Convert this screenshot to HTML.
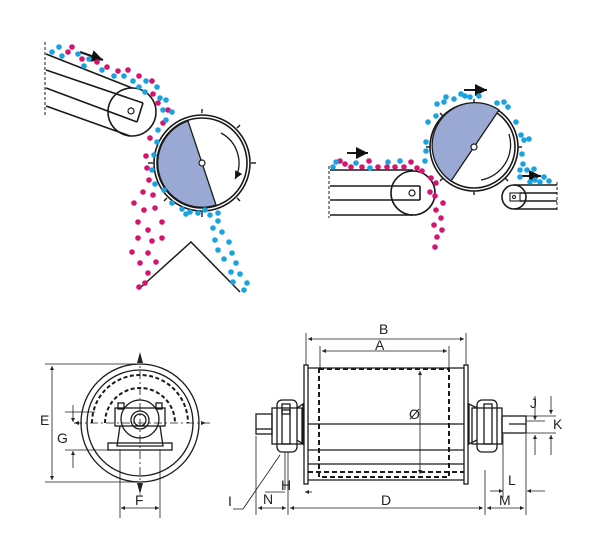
<!DOCTYPE html>
<html><head><meta charset="utf-8"><style>
html,body{margin:0;padding:0;background:#fff;}
svg{display:block;}
text{font-family:"Liberation Sans",sans-serif;font-size:14px;fill:#222;}
</style></head><body>
<svg width="600" height="554" viewBox="0 0 600 554" xmlns="http://www.w3.org/2000/svg">
<defs>
<marker id="a" viewBox="0 0 10 10" refX="10" refY="5" markerWidth="7" markerHeight="5" orient="auto-start-reverse"><path d="M0,0L10,5L0,10z" fill="#222"/></marker>
<marker id="b" viewBox="0 0 10 10" refX="10" refY="5" markerWidth="9" markerHeight="6" orient="auto"><path d="M0,0L10,5L0,10z" fill="#111"/></marker>
</defs>
<g stroke="#1a1a1a" stroke-width="1.6" fill="none">
<line x1="45" y1="42" x2="45" y2="116" stroke-dasharray="3 2" stroke-width="1"/>
<line x1="46" y1="54" x2="132" y2="88"/>
<line x1="46" y1="106" x2="130" y2="136"/>
<line x1="46" y1="70" x2="143" y2="103"/>
<line x1="46" y1="88" x2="137" y2="122"/>
<line x1="143" y1="103" x2="137" y2="122"/>
<circle cx="132" cy="112" r="24" fill="none"/>
<circle cx="131" cy="111" r="3" stroke-width="1.2"/>
<circle cx="202" cy="163" r="48" fill="#fff"/>
<circle cx="202" cy="163" r="45"/>
<path d="M188,121 A44,44 0 0 0 216,205 Z" fill="#9aa9d4" stroke-width="1.3"/>
<circle cx="202" cy="163" r="3" fill="#fff" stroke-width="1.2"/>
<path d="M221,133 A34,34 0 0 1 235,179" stroke-width="1.3" marker-end="url(#b)"/>
<g stroke-width="1.4">
<line x1="202" y1="113" x2="202" y2="109"/><line x1="237" y1="128" x2="240" y2="125"/>
<line x1="251" y1="163" x2="256" y2="163"/><line x1="237" y1="198" x2="240" y2="201"/>
<line x1="202" y1="212" x2="202" y2="217"/><line x1="167" y1="198" x2="164" y2="201"/>
<line x1="153" y1="163" x2="148" y2="163"/>
</g>
<path d="M140,288 L191,242 L240,292" stroke-width="1.5"/>
<line x1="80" y1="52" x2="103" y2="60" stroke-width="2" marker-end="url(#b)"/>
<line x1="329" y1="166" x2="329" y2="218" stroke-dasharray="3 2" stroke-width="1"/>
<line x1="330" y1="170" x2="413" y2="170"/>
<line x1="330" y1="215" x2="413" y2="215"/>
<line x1="330" y1="186" x2="420" y2="186"/>
<line x1="330" y1="200" x2="420" y2="200"/>
<line x1="420" y1="186" x2="420" y2="200"/>
<circle cx="413" cy="193" r="22"/>
<circle cx="412" cy="193" r="3" stroke-width="1.2"/>
<circle cx="474" cy="147" r="44" fill="#fff"/>
<circle cx="474" cy="147" r="41"/>
<path d="M499,110 A41,41 0 1 0 451,181 Z" fill="#9aa9d4" stroke-width="1.3"/>
<circle cx="474" cy="147" r="3" fill="#fff" stroke-width="1.2"/>
<path d="M509,134 A36,36 0 0 1 481,180" stroke-width="1.3"/>
<g stroke-width="1.4">
<line x1="474" y1="103" x2="474" y2="99"/><line x1="474" y1="191" x2="474" y2="195"/>
<line x1="518" y1="147" x2="522" y2="147"/><line x1="430" y1="147" x2="426" y2="147"/>
<line x1="443" y1="116" x2="440" y2="113"/><line x1="505" y1="178" x2="508" y2="181"/>
<line x1="443" y1="178" x2="440" y2="181"/>
</g>
<circle cx="514" cy="197" r="12"/>
<rect x="510" y="193" width="10" height="8" stroke-width="1.1"/>
<circle cx="514" cy="197" r="1.5" stroke-width="1"/>
<line x1="514" y1="185" x2="557" y2="185"/><line x1="514" y1="209" x2="557" y2="209"/>
<line x1="520" y1="193" x2="557" y2="193"/><line x1="520" y1="201" x2="557" y2="201"/>
<line x1="557" y1="182" x2="557" y2="212" stroke-dasharray="3 2" stroke-width="1"/>
<line x1="347" y1="153" x2="368" y2="153" stroke-width="2" marker-end="url(#b)"/>
<line x1="464" y1="90" x2="487" y2="90" stroke-width="2" marker-end="url(#b)"/>
<line x1="522" y1="176" x2="541" y2="176" stroke-width="2" marker-end="url(#b)"/>
</g>
<g fill="#d4146f">
<circle cx="68" cy="52" r="2.8"/><circle cx="72" cy="47" r="2.8"/><circle cx="82" cy="59" r="2.8"/><circle cx="97" cy="62" r="2.8"/><circle cx="107" cy="67" r="2.8"/><circle cx="118" cy="71" r="2.8"/><circle cx="128" cy="70" r="2.8"/><circle cx="139" cy="76" r="2.8"/><circle cx="152" cy="81" r="2.8"/><circle cx="153" cy="94" r="2.8"/><circle cx="158" cy="103" r="2.8"/><circle cx="168" cy="110" r="2.8"/><circle cx="163" cy="123" r="2.8"/><circle cx="150" cy="138" r="2.8"/><circle cx="146" cy="156" r="2.8"/><circle cx="147" cy="168" r="2.8"/><circle cx="149" cy="180" r="2.8"/><circle cx="143" cy="192" r="2.8"/><circle cx="153" cy="195" r="2.8"/><circle cx="134" cy="203" r="2.8"/><circle cx="144" cy="210" r="2.8"/><circle cx="155" cy="208" r="2.8"/><circle cx="138" cy="222" r="2.8"/><circle cx="148" cy="230" r="2.8"/><circle cx="162" cy="222" r="2.8"/><circle cx="138" cy="238" r="2.8"/><circle cx="152" cy="241" r="2.8"/><circle cx="162" cy="238" r="2.8"/><circle cx="132" cy="252" r="2.8"/><circle cx="148" cy="253" r="2.8"/><circle cx="140" cy="263" r="2.8"/><circle cx="156" cy="262" r="2.8"/><circle cx="148" cy="273" r="2.8"/><circle cx="145" cy="283" r="2.8"/><circle cx="139" cy="287" r="2.8"/>
<circle cx="340" cy="161" r="2.8"/><circle cx="345" cy="164" r="2.8"/><circle cx="351" cy="167" r="2.8"/><circle cx="362" cy="167" r="2.8"/><circle cx="369" cy="161" r="2.8"/><circle cx="378" cy="167" r="2.8"/><circle cx="387" cy="167" r="2.8"/><circle cx="395" cy="167" r="2.8"/><circle cx="404" cy="167" r="2.8"/><circle cx="411" cy="162" r="2.8"/><circle cx="417" cy="168" r="2.8"/><circle cx="422" cy="171" r="2.8"/><circle cx="431" cy="178" r="2.8"/><circle cx="436" cy="183" r="2.8"/><circle cx="435" cy="196" r="2.8"/><circle cx="436" cy="210" r="2.8"/><circle cx="441" cy="218" r="2.8"/><circle cx="434" cy="225" r="2.8"/><circle cx="442" cy="230" r="2.8"/><circle cx="437" cy="237" r="2.8"/><circle cx="435" cy="247" r="2.8"/><circle cx="443" cy="203" r="2.8"/><circle cx="430" cy="192" r="2.8"/>
</g>
<g fill="#1aa3e0">
<circle cx="52" cy="52" r="2.8"/><circle cx="59" cy="47" r="2.8"/><circle cx="62" cy="56" r="2.8"/><circle cx="78" cy="54" r="2.8"/><circle cx="89" cy="59" r="2.8"/><circle cx="84" cy="66" r="2.8"/><circle cx="102" cy="70" r="2.8"/><circle cx="114" cy="76" r="2.8"/><circle cx="124" cy="76" r="2.8"/><circle cx="133" cy="81" r="2.8"/><circle cx="139" cy="87" r="2.8"/><circle cx="146" cy="81" r="2.8"/><circle cx="145" cy="92" r="2.8"/><circle cx="157" cy="87" r="2.8"/><circle cx="160" cy="98" r="2.8"/><circle cx="166" cy="100" r="2.8"/><circle cx="163" cy="110" r="2.8"/><circle cx="166" cy="120" r="2.8"/><circle cx="158" cy="130" r="2.8"/><circle cx="157" cy="142" r="2.8"/><circle cx="154" cy="155" r="2.8"/><circle cx="152" cy="170" r="2.8"/><circle cx="155" cy="184" r="2.8"/><circle cx="164" cy="190" r="2.8"/><circle cx="172" cy="203" r="2.8"/><circle cx="182" cy="209" r="2.8"/><circle cx="190" cy="212" r="2.8"/><circle cx="198" cy="213" r="2.8"/><circle cx="186" cy="214" r="2.8"/><circle cx="205" cy="210" r="2.8"/><circle cx="210" cy="215" r="2.8"/><circle cx="218" cy="213" r="2.8"/><circle cx="218" cy="221" r="2.8"/><circle cx="213" cy="228" r="2.8"/><circle cx="222" cy="232" r="2.8"/><circle cx="215" cy="240" r="2.8"/><circle cx="229" cy="242" r="2.8"/><circle cx="218" cy="250" r="2.8"/><circle cx="232" cy="253" r="2.8"/><circle cx="224" cy="259" r="2.8"/><circle cx="236" cy="263" r="2.8"/><circle cx="231" cy="272" r="2.8"/><circle cx="240" cy="274" r="2.8"/><circle cx="233" cy="282" r="2.8"/><circle cx="247" cy="283" r="2.8"/><circle cx="244" cy="290" r="2.8"/><circle cx="172" cy="112" r="2.8"/>
<circle cx="333" cy="167" r="2.8"/><circle cx="336" cy="162" r="2.8"/><circle cx="356" cy="163" r="2.8"/><circle cx="370" cy="168" r="2.8"/><circle cx="388" cy="162" r="2.8"/><circle cx="400" cy="161" r="2.8"/><circle cx="425" cy="161" r="2.8"/><circle cx="426" cy="151" r="2.8"/><circle cx="426" cy="142" r="2.8"/><circle cx="428" cy="122" r="2.8"/><circle cx="436" cy="116" r="2.8"/><circle cx="437" cy="104" r="2.8"/><circle cx="444" cy="102" r="2.8"/><circle cx="446" cy="97" r="2.8"/><circle cx="454" cy="99" r="2.8"/><circle cx="461" cy="94" r="2.8"/><circle cx="465" cy="96" r="2.8"/><circle cx="470" cy="97" r="2.8"/><circle cx="479" cy="96" r="2.8"/><circle cx="497" cy="103" r="2.8"/><circle cx="504" cy="102" r="2.8"/><circle cx="508" cy="107" r="2.8"/><circle cx="516" cy="122" r="2.8"/><circle cx="521" cy="135" r="2.8"/><circle cx="524" cy="140" r="2.8"/><circle cx="529" cy="139" r="2.8"/><circle cx="522" cy="154" r="2.8"/><circle cx="523" cy="164" r="2.8"/><circle cx="520" cy="170" r="2.8"/><circle cx="527" cy="170" r="2.8"/><circle cx="534" cy="169" r="2.8"/><circle cx="520" cy="177" r="2.8"/><circle cx="535" cy="180" r="2.8"/><circle cx="544" cy="177" r="2.8"/><circle cx="549" cy="181" r="2.8"/><circle cx="540" cy="182" r="2.8"/><circle cx="530" cy="182" r="2.8"/>
</g>
<g stroke="#1a1a1a" fill="none" stroke-width="1.3">
<circle cx="140" cy="423" r="59"/>
<circle cx="140" cy="423" r="53"/>
<path d="M92,423 A48,48 0 0 1 188,423" stroke-width="2" stroke-dasharray="4 2.5"/>
<path d="M105,423 A35,35 0 0 1 175,423" stroke-width="2" stroke-dasharray="4 2.5"/>
<circle cx="140" cy="419" r="19"/>
<circle cx="140" cy="420" r="9"/><circle cx="140" cy="420" r="6"/>
<rect x="115" y="408" width="50" height="18"/>
<rect x="118" y="403" width="6" height="6"/><rect x="156" y="403" width="6" height="6"/>
<path d="M120,426 L117,446 L163,446 L160,426"/>
<rect x="108" y="443" width="64" height="7"/>
<g stroke-width="0.8">
<line x1="140" y1="355" x2="140" y2="495" stroke-dasharray="8 3 2 3"/>
<line x1="74" y1="423" x2="212" y2="423" stroke-dasharray="8 3 2 3"/>
<line x1="45" y1="364" x2="140" y2="364"/><line x1="45" y1="482" x2="140" y2="482"/>
<line x1="65" y1="412" x2="95" y2="412"/><line x1="65" y1="450" x2="110" y2="450"/>
<line x1="120" y1="450" x2="120" y2="518"/><line x1="160" y1="450" x2="160" y2="518"/>
<line x1="52" y1="366" x2="52" y2="480" marker-start="url(#a)" marker-end="url(#a)"/>
<line x1="73" y1="405" x2="73" y2="422" marker-end="url(#a)"/>
<line x1="73" y1="468" x2="73" y2="451" marker-end="url(#a)"/>
<line x1="121" y1="508" x2="159" y2="508" marker-start="url(#a)" marker-end="url(#a)"/>
</g>
<path d="M137,363 L140,352 L143,363Z" fill="#222" stroke="none"/>
<path d="M137,483 L140,494 L143,483Z" fill="#222" stroke="none"/>
<path d="M79,421 L74,423 L79,425Z" fill="#222" stroke="none"/>
<path d="M201,421 L206,423 L201,425Z" fill="#222" stroke="none"/>
</g>
<text x="40" y="425">E</text><text x="57" y="443">G</text><text x="135" y="505">F</text>
<g stroke="#1a1a1a" fill="none" stroke-width="1.3">
<rect x="304" y="365" width="4" height="119"/>
<rect x="464" y="365" width="4" height="119"/>
<line x1="308" y1="368" x2="464" y2="368"/><line x1="308" y1="480" x2="464" y2="480"/>
<rect x="319" y="369" width="130" height="108" stroke-width="2" stroke-dasharray="5 3"/>
<line x1="308" y1="472" x2="464" y2="472" stroke-width="2" stroke-dasharray="5 3"/>
<line x1="308" y1="424" x2="464" y2="424"/>
<line x1="308" y1="450" x2="464" y2="450"/>
<line x1="308" y1="464" x2="464" y2="464"/>
<rect x="256" y="414" width="16" height="20"/>
<line x1="256" y1="429" x2="272" y2="429"/>
<rect x="272" y="408" width="30" height="36"/>
<rect x="277" y="400" width="20" height="52" rx="5"/>
<rect x="282" y="404" width="8" height="40"/>
<rect x="282" y="410" width="8" height="4"/>
<path d="M297,408 L303,404 L303,444 L297,440"/>
<rect x="472" y="408" width="30" height="36"/>
<rect x="477" y="400" width="20" height="52" rx="5"/>
<rect x="484" y="404" width="8" height="40"/>
<path d="M477,408 L469,404 L469,444 L477,440"/>
<rect x="502" y="416" width="24" height="17"/>
<line x1="509" y1="424" x2="526" y2="424"/>
<g stroke-width="0.8">
<line x1="306" y1="333" x2="306" y2="365"/><line x1="466" y1="333" x2="466" y2="365"/>
<line x1="320" y1="346" x2="320" y2="368"/><line x1="449" y1="346" x2="449" y2="368"/>
<line x1="308" y1="339" x2="464" y2="339" marker-start="url(#a)" marker-end="url(#a)"/>
<line x1="322" y1="351" x2="447" y2="351" marker-start="url(#a)" marker-end="url(#a)"/>
<line x1="420" y1="371" x2="420" y2="474" marker-start="url(#a)" marker-end="url(#a)"/>
<line x1="256" y1="436" x2="256" y2="515"/><line x1="288" y1="452" x2="288" y2="515"/>
<line x1="285" y1="452" x2="285" y2="490"/>
<line x1="485" y1="470" x2="485" y2="515"/><line x1="526" y1="434" x2="526" y2="515"/>
<line x1="503" y1="434" x2="503" y2="498"/>
<line x1="258" y1="508" x2="286" y2="508" marker-start="url(#a)" marker-end="url(#a)"/>
<line x1="290" y1="508" x2="483" y2="508" marker-start="url(#a)" marker-end="url(#a)"/>
<line x1="487" y1="508" x2="524" y2="508" marker-start="url(#a)" marker-end="url(#a)"/>
<line x1="265" y1="492" x2="285" y2="492"/><line x1="305" y1="492" x2="312" y2="492" marker-start="url(#a)"/>
<line x1="490" y1="491" x2="503" y2="491" marker-end="url(#a)"/><line x1="545" y1="491" x2="527" y2="491" marker-end="url(#a)"/>
<line x1="526" y1="416" x2="556" y2="416"/><line x1="526" y1="433" x2="556" y2="433"/>
<line x1="526" y1="421" x2="545" y2="421"/>
<line x1="535" y1="396" x2="535" y2="420" marker-end="url(#a)"/>
<line x1="535" y1="455" x2="535" y2="435" marker-end="url(#a)"/>
<line x1="551" y1="396" x2="551" y2="414" marker-end="url(#a)"/>
<line x1="551" y1="455" x2="551" y2="435" marker-end="url(#a)"/>
<line x1="243" y1="509" x2="280" y2="455"/>
<line x1="233" y1="509" x2="243" y2="509"/>
</g>
</g>
<text x="379" y="334">B</text><text x="375" y="350">A</text><text x="409" y="419">Ø</text>
<text x="381" y="505">D</text><text x="263" y="504">N</text><text x="281" y="490">H</text>
<text x="499" y="505">M</text><text x="508" y="485">L</text>
<text x="530" y="408">J</text><text x="553" y="429">K</text><text x="228" y="506">I</text>
</svg>
</body></html>
